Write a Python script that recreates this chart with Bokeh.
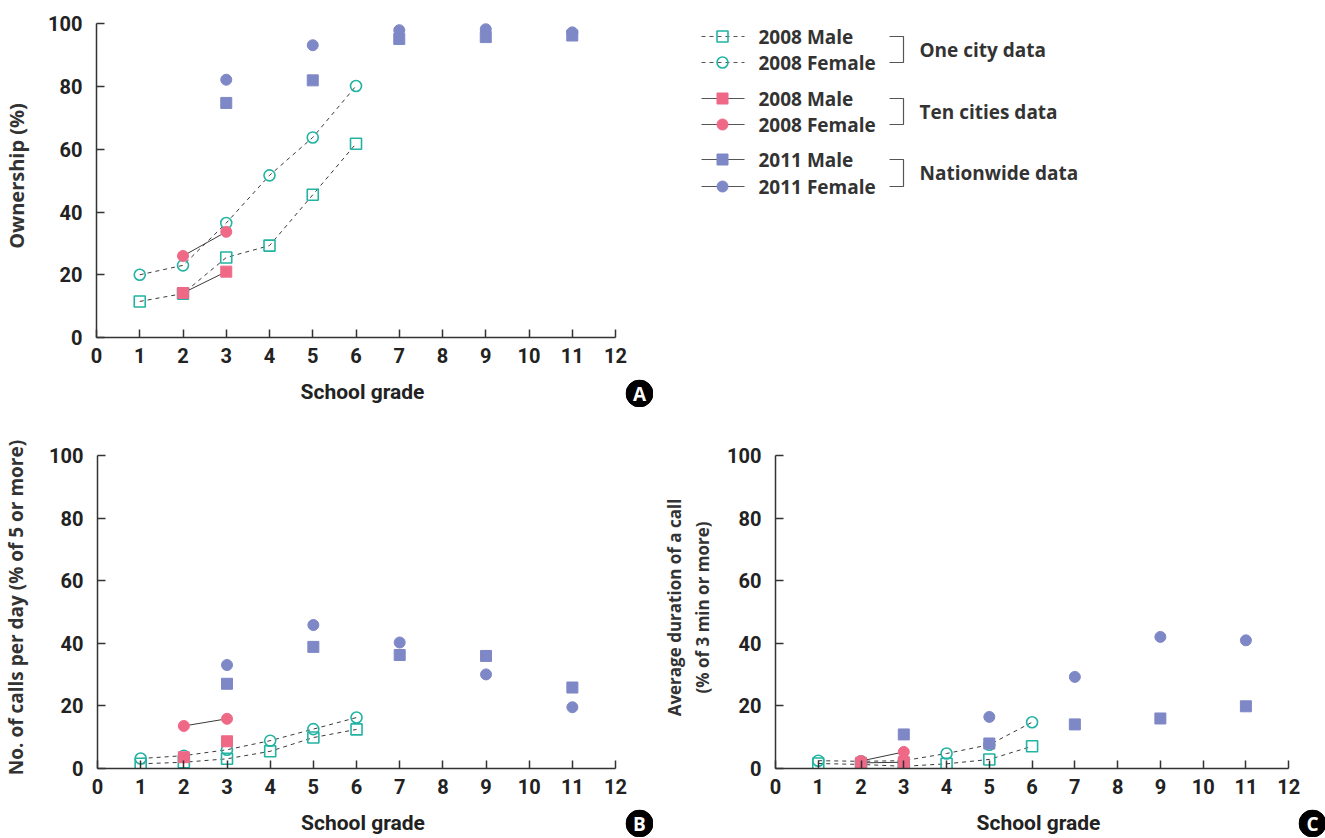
import math
from bokeh.plotting import figure
from bokeh.layouts import column, row
from bokeh.models import Range1d, FixedTicker
from bokeh.core.properties import value
from bokeh.embed import file_html
from bokeh.resources import INLINE

# ---------------- data ----------------
grades_one = [1, 2, 3, 4, 5, 6]
grades_ten = [2, 3]
grades_nat = [3, 5, 7, 9, 11]

# Panel A: ownership (%)
a_one_m = [11.5, 14.0, 25.5, 29.3, 45.5, 61.8]
a_one_f = [20.0, 23.0, 36.5, 51.7, 63.8, 80.2]
a_ten_m = [14.2, 21.0]
a_ten_f = [26.0, 33.7]
a_nat_m = [74.8, 82.0, 95.2, 95.8, 96.3]
a_nat_f = [82.2, 93.2, 98.0, 98.3, 97.3]

# Panel B: no. of calls per day (% of 5 or more)
b_one_m = [1.5, 2.0, 3.1, 5.5, 9.9, 12.5]
b_one_f = [3.2, 4.1, 6.0, 8.9, 12.6, 16.3]
b_ten_m = [3.6, 8.7]
b_ten_f = [13.6, 15.9]
b_nat_m = [27.1, 38.9, 36.3, 36.0, 25.9]
b_nat_f = [33.1, 45.9, 40.3, 30.1, 19.6]

# Panel C: average duration of a call (% of 3 min or more)
c_one_m = [1.6, 1.3, 0.7, 1.5, 2.9, 7.1]
c_one_f = [2.5, 2.3, 2.5, 4.8, 7.6, 14.8]
c_ten_m = [1.8, 2.0]
c_ten_f = [2.4, 5.3]
c_nat_m = [10.9, 8.0, 14.1, 16.0, 19.9]
c_nat_f = [float("nan"), 16.5, 29.3, 42.1, 41.0]

x_ticks = list(range(0, 13))
y_ticks = [0, 20, 40, 60, 80, 100]

legend_rows = ["2008 Male", "2008 Female", "2008 Male", "2008 Female", "2011 Male", "2011 Female"]
legend_groups = ["One city data", "Ten cities data", "Nationwide data"]
panel_letters = ["A", "B", "C"]

TEAL = "#22b3a3"
PINK = "#ef6987"
PURPLE = "#7f88c6"
LINE = "#3a3a3a"
TICK_FONT = "Roboto"
LABEL_FONT = "Open Sans"


def make_badge(letter, left, top, w=28, h=28):
    b = figure(width=w, height=h, output_backend="svg", toolbar_location=None,
               x_range=Range1d(0, w), y_range=Range1d(h, 0),
               x_axis_location=None, y_axis_location=None,
               min_border_left=0, min_border_right=0, min_border_top=0, min_border_bottom=0,
               styles={"position": "absolute", "left": f"{left}px", "top": f"{top}px",
                       "z-index": "10"})
    b.outline_line_color = None
    b.grid.visible = False
    b.background_fill_alpha = 0
    b.border_fill_alpha = 0
    b.scatter([14], [14], marker="circle", size=27, fill_color="black", line_color="black")
    b.text([14], [14.5], text=[letter], text_color="white", text_font=value("Open Sans"),
           text_font_style="bold", text_font_size="19px", text_align="center",
           text_baseline="middle")
    return b


def make_panel(width, height, left, right, top, bottom, ylabel, ylabel_size, ylabel_standoff,
               one_m, one_f, ten_m, ten_f, nat_m, nat_f, ten_m_line):
    p = figure(width=width, height=height, output_backend="svg", toolbar_location=None,
               x_range=Range1d(0, 12.3), y_range=Range1d(0, 103),
               min_border_left=left, min_border_right=right,
               min_border_top=top, min_border_bottom=bottom)
    p.outline_line_color = None
    p.grid.visible = False
    p.background_fill_color = "white"
    p.border_fill_color = "white"

    for ax in (p.xaxis[0], p.yaxis[0]):
        ax.axis_line_color = "#333333"
        ax.axis_line_width = 1.5
        ax.major_tick_line_color = "#333333"
        ax.major_tick_line_width = 1.5
        ax.major_tick_in = 8
        ax.major_tick_out = 0
        ax.minor_tick_in = 0
        ax.minor_tick_out = 0
        ax.major_label_text_font = TICK_FONT
        ax.major_label_text_font_size = "20px"
        ax.major_label_text_color = "#222222"
        ax.major_label_text_font_style = "bold"
    p.xaxis[0].ticker = FixedTicker(ticks=x_ticks)
    p.yaxis[0].ticker = FixedTicker(ticks=y_ticks)
    p.xaxis[0].bounds = (0, 12)
    p.yaxis[0].bounds = (0, 100)
    p.xaxis[0].major_label_standoff = 10
    p.yaxis[0].major_label_standoff = 14

    p.xaxis[0].axis_label = "School grade"
    p.xaxis[0].axis_label_text_font = TICK_FONT
    p.xaxis[0].axis_label_text_font_size = "21px"
    p.xaxis[0].axis_label_text_font_style = "bold"
    p.xaxis[0].axis_label_text_color = "#222222"
    p.xaxis[0].axis_label_standoff = 14

    p.yaxis[0].axis_label = ylabel
    p.yaxis[0].axis_label_text_font = LABEL_FONT
    p.yaxis[0].axis_label_text_font_size = ylabel_size
    p.yaxis[0].axis_label_text_font_style = "bold"
    p.yaxis[0].axis_label_text_color = "#333333"
    p.yaxis[0].axis_label_standoff = ylabel_standoff

    # one city (dashed, open markers)
    p.line(grades_one, one_m, line_color=LINE, line_dash="4 4", line_width=1)
    p.line(grades_one, one_f, line_color=LINE, line_dash="4 4", line_width=1)
    p.scatter(grades_one, one_m, marker="square", size=11, fill_color=None,
              line_color=TEAL, line_width=1.6)
    p.scatter(grades_one, one_f, marker="circle", size=11, fill_color=None,
              line_color=TEAL, line_width=1.6)
    # ten cities (solid, filled pink)
    if ten_m_line:
        p.line(grades_ten, ten_m, line_color=LINE, line_width=1)
    p.line(grades_ten, ten_f, line_color=LINE, line_width=1)
    p.scatter(grades_ten, ten_m, marker="square", size=11, fill_color=PINK, line_color=PINK)
    p.scatter(grades_ten, ten_f, marker="circle", size=11, fill_color=PINK, line_color=PINK)
    # nationwide (filled purple, no connecting lines)
    p.scatter(grades_nat, nat_m, marker="square", size=11, fill_color=PURPLE, line_color=PURPLE)
    p.scatter(grades_nat, nat_f, marker="circle", size=11, fill_color=PURPLE, line_color=PURPLE)
    return p


pA = make_panel(660, 410, 96, 32, 14, 73, "Ownership (%)", "20px", 15,
                a_one_m, a_one_f, a_ten_m, a_ten_f, a_nat_m, a_nat_f, True)
pB = make_panel(660, 428, 96, 32, 36, 70, "No. of calls per day (% of 5 or more)", "19px", 17,
                b_one_m, b_one_f, b_ten_m, b_ten_f, b_nat_m, b_nat_f, False)
pC = make_panel(665, 428, 112, 24, 36, 70, "Average duration of a call\n(% of 3 min or more)",
                "17px", 10,
                c_one_m, c_one_f, c_ten_m, c_ten_f, c_nat_m, c_nat_f, True)

# ---------------- legend panel (pixel coordinates, y downward) ----------------
pL = figure(width=665, height=410, output_backend="svg", toolbar_location=None,
            x_range=Range1d(660, 1325), y_range=Range1d(337, 14),
            x_axis_location=None, y_axis_location=None,
            min_border_left=0, min_border_right=0, min_border_top=14, min_border_bottom=73)
pL.outline_line_color = None
pL.grid.visible = False

row_y = [36, 62, 98, 124, 159, 186]
markers = ["square", "circle", "square", "circle", "square", "circle"]
fills = [None, None, PINK, PINK, PURPLE, PURPLE]
lcols = [TEAL, TEAL, PINK, PINK, PURPLE, PURPLE]
dashes = ["4 4", "4 4", "solid", "solid", "solid", "solid"]
for i, yy in enumerate(row_y):
    pL.line([701, 744], [yy, yy], line_color="#555555", line_width=1.2, line_dash=dashes[i])
    pL.scatter([722], [yy], marker=markers[i], size=11,
               fill_color=fills[i], line_color=lcols[i], line_width=1.6 if fills[i] is None else 1)
    pL.text([758], [yy], text=[legend_rows[i]], text_font=value(LABEL_FONT),
            text_font_size="19px", text_color="#333333", text_baseline="middle",
            text_font_style="bold")

for g in range(3):
    y1, y2 = row_y[2 * g], row_y[2 * g + 1]
    pL.line([889, 903, 903, 889], [y1, y1, y2, y2], line_color="#555555", line_width=1.2)
    pL.text([919], [(y1 + y2) / 2], text=[legend_groups[g]], text_font=value(LABEL_FONT),
            text_font_size="19px", text_color="#333333", text_baseline="middle",
            text_font_style="bold")

badges = [make_badge(panel_letters[0], 625, 379),
          make_badge(panel_letters[1], 625, 809),
          make_badge(panel_letters[2], 1298, 809, w=27)]

layout = column(row(pA, pL), row(pB, pC), *badges)
html = file_html(layout, INLINE)
html = html.replace("<head>", "<head><style>html,body{margin:0;padding:0;overflow:hidden;}</style>", 1)
open("out.html", "w").write(html)
